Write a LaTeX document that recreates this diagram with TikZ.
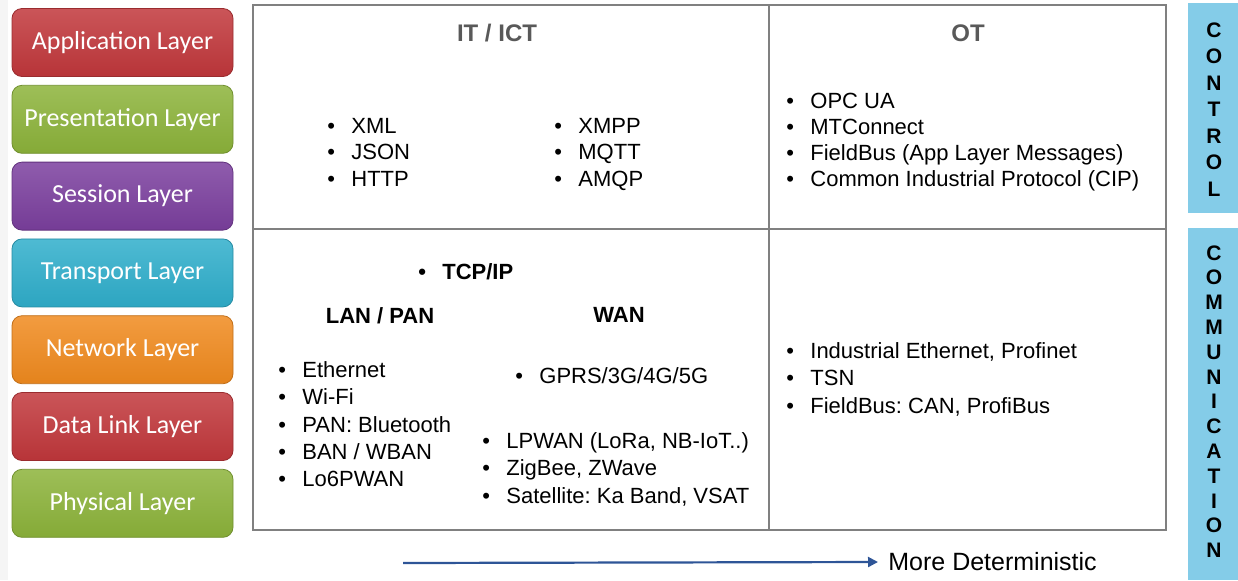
\documentclass[tikz,border=0pt]{standalone}
\usepackage{fontspec}
\setmainfont{Liberation Sans}
\newfontfamily\btnfont{Carlito}
\usepackage{xcolor}
\usetikzlibrary{arrows.meta,positioning}
\definecolor{osired}{HTML}{C1373B}
\definecolor{osigreen}{HTML}{8CB33A}
\definecolor{osipurple}{HTML}{7B3F9E}
\definecolor{osicyan}{HTML}{2FAECB}
\definecolor{osiorange}{HTML}{F08A1E}
\definecolor{gridgray}{HTML}{808080}
\definecolor{headgray}{HTML}{595959}
\definecolor{barblue}{HTML}{84CCE8}
\definecolor{detblue}{HTML}{2E5597}
\newcommand{\itm}{\makebox[12pt][l]{\textbullet}}
\frenchspacing

\begin{document}
\begin{tikzpicture}[
        x=0.5pt, y=-0.5pt,
        node distance=4pt,
        layer/.style={
          rounded corners=5pt,
          minimum width=110.5pt,
          minimum height=34pt,
          inner sep=0pt,
          text=white,
          font=\btnfont\fontsize{13}{15}\selectfont,
          draw=#1!80!black,
          line width=0.4pt,
          top color=#1!85!white,
          bottom color=#1!95!black
        },
        head/.style={
          anchor=north,
          inner sep=0pt,
          font=\bfseries\fontsize{12}{14}\selectfont,
          text=headgray
        },
        items/.style={
          anchor=north west,
          align=left,
          inner sep=0pt,
          font=\fontsize{11}{13.5}\selectfont
        },
        subhead/.style={
          anchor=north,
          inner sep=0pt,
          font=\bfseries\fontsize{11}{13.5}\selectfont
        },
        barlabel/.style={
          anchor=north,
          align=center,
          inner sep=0pt,
          font=\bfseries\fontsize{10.5}{#1}\selectfont
        },
        arrow/.style={
          -{Triangle[length=5pt,width=5pt]},
          line width=1.1pt,
          detblue
        }
      ]

      \useasboundingbox (0,0) rectangle (1238,580);
      \fill[gray!8] (0,0) rectangle (8,580);

      % OSI layers
      \node[layer=osired] (app) at (122.5,42.5) {Application Layer};
      \node[layer=osigreen, below=of app] (pres) {Presentation Layer};
      \node[layer=osipurple, below=of pres] (sess) {Session Layer};
      \node[layer=osicyan, below=of sess] (trans) {Transport Layer};
      \node[layer=osiorange, below=of trans] (net) {Network Layer};
      \node[layer=osired, below=of net] (link) {Data Link Layer};
      \node[layer=osigreen, below=of link] (phys) {Physical Layer};

      % grid
      \draw[gridgray, line width=1pt] (253,5) rectangle (1166,530);
      \draw[gridgray, line width=1pt] (769,5) -- (769,530);
      \draw[gridgray, line width=1pt] (253,229) -- (1166,229);

      \node[head] (itict) at (497,24) {IT / ICT};
      \node[head] (ot) at (968,24) {OT};

      % control row
      \node[items, font=\fontsize{11}{13.2}\selectfont] (itdata) at (327,118) {\itm XML\\\itm JSON\\\itm HTTP};
      \node[items, font=\fontsize{11}{13.2}\selectfont] (itmsg) at (554,118) {\itm XMPP\\\itm MQTT\\\itm AMQP};
      \node[items, font=\fontsize{11}{13}\selectfont] (otctrl) at (786,93) {\itm OPC UA\\\itm MTConnect\\\itm FieldBus (App Layer Messages)\\\itm Common Industrial Protocol (CIP)};

      % communication row
      \node[items, font=\bfseries\fontsize{11}{13.5}\selectfont] (tcpip) at (418,263) {\itm TCP/IP};
      \node[subhead] (lan) at (380,307) {LAN / PAN};
      \node[subhead] (wan) at (619,307) {WAN};
      \node[items, font=\fontsize{11}{13.7}\selectfont] (lanlist) at (278,361) {\itm Ethernet\\\itm Wi-Fi\\\itm PAN: Bluetooth\\\itm BAN / WBAN\\\itm Lo6PWAN};
      \node[items] (cell) at (515,367) {\itm GPRS/3G/4G/5G};
      \node[items, font=\fontsize{11}{13.7}\selectfont] (wanlist) at (482,432) {\itm LPWAN (LoRa, NB-IoT..)\\\itm ZigBee, ZWave\\\itm Satellite: Ka Band, VSAT};
      \node[items, font=\fontsize{11}{13.7}\selectfont] (otcomm) at (786,342) {\itm Industrial Ethernet, Profinet\\\itm TSN\\\itm FieldBus: CAN, ProfiBus};

      % side bars
      \fill[barblue] (1188,3) rectangle (1238,213);
      \fill[barblue] (1188,228) rectangle (1238,580);
      \node[barlabel=13.25pt] (control) at (1214,22) {C\\O\\N\\T\\R\\O\\L};
      \node[barlabel=12.4pt] (comm) at (1214,245) {C\\O\\M\\M\\U\\N\\I\\C\\A\\T\\I\\O\\N};

      % determinism arrow
      \node[anchor=west, inner sep=0pt, font=\fontsize{12.5}{14}\selectfont] (det) at (888,562) {More Deterministic};
      \coordinate (detstart) at (403,563);
      \draw[arrow] (detstart) -- (det.west -| 878,563);

      \end{tikzpicture}
\end{document}
